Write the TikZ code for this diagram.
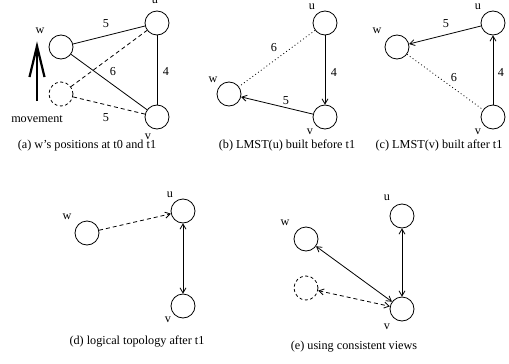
\documentclass[tikz,border=0pt]{standalone}
\usepackage{fontspec}
\setmainfont{Liberation Serif}
\usetikzlibrary{arrows.meta}
\begin{document}
\begin{tikzpicture}[x=1pt,y=-1pt,
  font=\fontsize{12.2}{14}\selectfont,
  vtx/.style={circle,draw,line width=0.8pt,minimum size=24pt,inner sep=0pt},
  ghost/.style={vtx,dash pattern=on 3pt off 2.5pt},
  lbl/.style={inner sep=0pt},
  edge/.style={line width=0.8pt},
  dsh/.style={edge,dash pattern=on 4pt off 3pt},
  dot/.style={edge,dash pattern=on 0.9pt off 2.6pt},
  tip/.style={-{Straight Barb[length=5pt,width=6pt]}},
  both/.style={{Straight Barb[length=5pt,width=6pt]}-{Straight Barb[length=5pt,width=6pt]}}]
\useasboundingbox (0,0) rectangle (509,364);
% ---------- (a)
\node[vtx] (aw) at (61,47) {};
\node[vtx] (au) at (157,23) {};
\node[vtx] (av) at (157,117) {};
\node[ghost] (aw1) at (61,94) {};
\draw[edge] (aw) -- (au);
\draw[edge] (aw) -- (av);
\draw[edge] (au) -- (av);
\draw[dsh] (aw1) -- (au);
\draw[dsh] (aw1) -- (av);
\node[lbl] (awl) at (40,31) {w};
\node[lbl] (aul) at (155,1) {u};
\node[lbl] (avl) at (148,137) {v};
\node[lbl] (a5a) at (106,24) {5};
\node[lbl] (a6) at (113,72) {6};
\node[lbl] (a4) at (166,71) {4};
\node[lbl] (a5b) at (106,118) {5};
\node[lbl] (mv) at (37,119) {movement};
\coordinate (mvb) at (37,101);
\coordinate (mvt) at (37,46);
\coordinate (mvl) at (29.5,77);
\coordinate (mvr) at (44.5,77);
\draw[line width=2.6pt] (mvb) -- (mvt);
\draw[line width=2.2pt,line join=miter] (mvl) -- (mvt) -- (mvr);
\node[lbl] (capa) at (87,146) {(a) w's positions at t0 and t1};
% ---------- (b)
\node[vtx] (bu) at (325,23) {};
\node[vtx] (bw) at (229,94) {};
\node[vtx] (bv) at (325,117) {};
\draw[dot] (bu) -- (bw);
\draw[edge,tip] (bu) -- (bv);
\draw[edge,tip] (bv) -- (bw);
\node[lbl] (bul) at (312,7) {u};
\node[lbl] (bwl) at (213,80) {w};
\node[lbl] (bvl) at (310,132) {v};
\node[lbl] (b6) at (274,48) {6};
\node[lbl] (b4) at (334,72) {4};
\node[lbl] (b5) at (286,101) {5};
\node[lbl] (capb) at (287,146) {(b) LMST(u) built before t1};
% ---------- (c)
\node[vtx] (cu) at (493,23) {};
\node[vtx] (cw) at (397,47) {};
\node[vtx] (cv) at (493,117) {};
\draw[edge,tip] (cu) -- (cw);
\draw[edge,tip] (cv) -- (cu);
\draw[dot] (cw) -- (cv);
\node[lbl] (cul) at (478,7) {u};
\node[lbl] (cwl) at (377,31) {w};
\node[lbl] (cvl) at (478,132) {v};
\node[lbl] (c5) at (446,24) {5};
\node[lbl] (c6) at (454,78) {6};
\node[lbl] (c4) at (501,72) {4};
\node[lbl] (capc) at (439,146) {(c) LMST(v) built after t1};
% ---------- (d)
\node[vtx] (dw) at (87,233) {};
\node[vtx] (du) at (183,211) {};
\node[vtx] (dv) at (183,306) {};
\draw[dsh,tip] (dw) -- (du);
\draw[edge,both] (du) -- (dv);
\node[lbl] (dwl) at (67,217) {w};
\node[lbl] (dul) at (170,195) {u};
\node[lbl] (dvl) at (168,320) {v};
\node[lbl] (capd) at (137,342) {(d) logical topology after t1};
% ---------- (e)
\node[vtx] (eu) at (402,216) {};
\node[vtx] (ew) at (306,239) {};
\node[ghost] (ew1) at (306,288) {};
\node[vtx] (ev) at (402,309) {};
\draw[edge,both] (ew) -- (ev);
\draw[dsh,both] (ew1) -- (ev);
\draw[edge,both] (eu) -- (ev);
\node[lbl] (eul) at (387,198) {u};
\node[lbl] (ewl) at (285,223) {w};
\node[lbl] (evl) at (387,327) {v};
\node[lbl] (cape) at (354,347) {(e) using consistent views};
\end{tikzpicture}
\end{document}
